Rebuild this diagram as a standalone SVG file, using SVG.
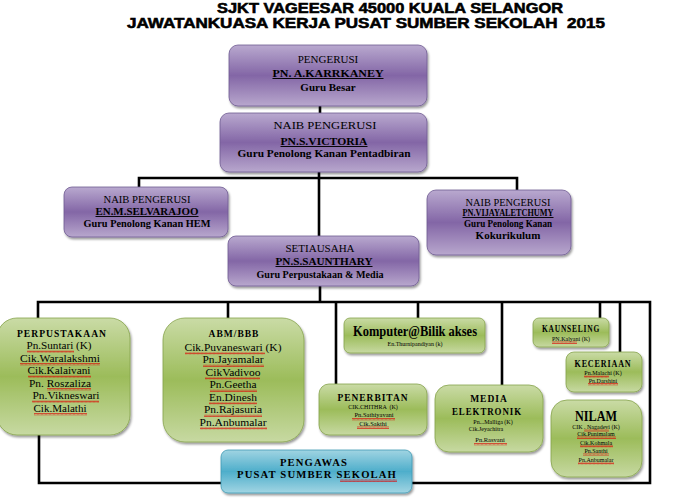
<svg xmlns="http://www.w3.org/2000/svg" width="688" height="503" viewBox="0 0 688 503">
<style>
.t{font-family:"Liberation Sans",Arial,sans-serif;font-weight:bold;font-size:14px;fill:#000;stroke:#000;stroke-width:0.55}
.s{font-family:"Liberation Serif","Times New Roman",serif;fill:#000;text-anchor:middle}
.h{font-size:11px}
.n{font-size:9.5px;font-weight:900;text-decoration:underline}
.g{font-size:11px;font-weight:bold}
.c{font-size:9.5px;font-weight:bold;letter-spacing:1px}
.m{font-size:10.5px}
.x{font-size:6px}
.y{font-size:6.5px}
.pb{fill:url(#pg);stroke:#6f5a92;stroke-width:0.8;filter:url(#sh)}
.gb{fill:url(#gg);stroke:#86a34c;stroke-width:0.8;filter:url(#sh)}
.bb{fill:url(#bg);stroke:#3f9ab4;stroke-width:0.8;filter:url(#sh)}
.ln{fill:none;stroke:#000;stroke-width:2.6}
.sq{fill:url(#sqp)}
</style>
<defs>
<linearGradient id="pg" x1="0" y1="0" x2="0" y2="1">
<stop offset="0" stop-color="#b9a9cf"/><stop offset="0.5" stop-color="#8366a6"/><stop offset="1" stop-color="#b8a7cd"/>
</linearGradient>
<linearGradient id="gg" x1="0" y1="0" x2="0" y2="1">
<stop offset="0" stop-color="#cadba6"/><stop offset="0.5" stop-color="#9cbc5a"/><stop offset="1" stop-color="#c7d9a2"/>
</linearGradient>
<linearGradient id="bg" x1="0" y1="0" x2="0" y2="1">
<stop offset="0" stop-color="#a0d4e2"/><stop offset="0.5" stop-color="#4eaecb"/><stop offset="1" stop-color="#a2d5e3"/>
</linearGradient>
<filter id="sh" x="-10%" y="-10%" width="125%" height="130%">
<feDropShadow dx="1.2" dy="2" stdDeviation="1" flood-color="#000" flood-opacity="0.4"/>
</filter>
<pattern id="sqp" width="4" height="2.5" patternUnits="userSpaceOnUse">
<path d="M0,2 L1,0.5 L2,2 L3,0.5 L4,2" fill="none" stroke="#e00000" stroke-width="0.7"/>
</pattern>
</defs>

<g id="title">
<text class="t" x="217" y="13" textLength="346" lengthAdjust="spacingAndGlyphs">SJKT VAGEESAR 45000 KUALA SELANGOR</text>
<text class="t" x="127" y="28" textLength="478" lengthAdjust="spacingAndGlyphs" xml:space="preserve">JAWATANKUASA KERJA PUSAT SUMBER SEKOLAH  2015</text>
</g>

<g id="connectors">
<path class="ln" d="M320,106 V113"/>
<path class="ln" d="M319,172 V236"/>
<path class="ln" d="M139,187 V178 H517 V190"/>
<path class="ln" d="M320,286 V302"/>
<path class="ln" d="M38,318 V302 H650 V483 H412"/>
<path class="ln" d="M221,483 H39 V435"/>
<path class="ln" d="M228,302 V318"/>
<path class="ln" d="M336,302 V384"/>
<path class="ln" d="M418,302 V318"/>
<path class="ln" d="M502,302 V385"/>
<path class="ln" d="M600,302 V318"/>
<path class="ln" d="M620,302 V352"/>
</g>

<g id="pengerusi">
<rect class="pb" x="229" y="45" width="198" height="61" rx="9"/>
<text class="s h" x="328" y="63">PENGERUSI</text>
<text class="s n" x="328" y="77" textLength="111" lengthAdjust="spacingAndGlyphs">PN. A.KARRKANEY</text>
<text class="s g" x="328" y="91">Guru Besar</text>
</g>

<g id="naib-pentadbiran">
<rect class="pb" x="220" y="113" width="207" height="59" rx="9"/>
<text class="s h" x="325" y="129" textLength="103" lengthAdjust="spacingAndGlyphs">NAIB PENGERUSI</text>
<text class="s n" x="324" y="145" textLength="87" lengthAdjust="spacingAndGlyphs">PN.S.VICTORIA</text>
<text class="s g" x="324" y="157" textLength="173" lengthAdjust="spacingAndGlyphs">Guru Penolong Kanan Pentadbiran</text>
</g>

<g id="naib-hem">
<rect class="pb" x="64" y="187" width="164" height="50" rx="8"/>
<text class="s h" x="147" y="203" textLength="87" lengthAdjust="spacingAndGlyphs">NAIB PENGERUSI</text>
<text class="s n" x="147" y="215" textLength="103" lengthAdjust="spacingAndGlyphs">EN.M.SELVARAJOO</text>
<text class="s g" x="147" y="227" textLength="127" lengthAdjust="spacingAndGlyphs">Guru Penolong Kanan HEM</text>
</g>

<g id="naib-kokurikulum">
<rect class="pb" x="427" y="190" width="144" height="65" rx="9"/>
<text class="s h" x="508" y="205.5" textLength="85" lengthAdjust="spacingAndGlyphs">NAIB PENGERUSI</text>
<text class="s n" x="508" y="216" textLength="91" lengthAdjust="spacingAndGlyphs">PN.VIJAYALETCHUMY</text>
<text class="s g" x="508" y="227" font-size="10.5" textLength="88" lengthAdjust="spacingAndGlyphs">Guru Penolong Kanan</text>
<text class="s g" x="508" y="238.5" font-size="10.5">Kokurikulum</text>
</g>

<g id="setiausaha">
<rect class="pb" x="228" y="236" width="191" height="50" rx="8"/>
<text class="s h" x="320" y="252">SETIAUSAHA</text>
<text class="s n" x="324" y="265" textLength="97" lengthAdjust="spacingAndGlyphs">PN.S.SAUNTHARY</text>
<text class="s g" x="320" y="278" textLength="127" lengthAdjust="spacingAndGlyphs">Guru Perpustakaan &amp; Media</text>
</g>

<g id="perpustakaan">
<rect class="gb" x="-3" y="318" width="133" height="117" rx="20"/>
<text class="s c" x="62" y="336.5" textLength="90" lengthAdjust="spacingAndGlyphs">PERPUSTAKAAN</text>
<text class="s m" x="59" y="349" textLength="65" lengthAdjust="spacingAndGlyphs">Pn.Suntari (K)</text>
<text class="s m" x="60" y="361.5" textLength="80" lengthAdjust="spacingAndGlyphs">Cik.Waralakshmi</text>
<text class="s m" x="59" y="374" textLength="63" lengthAdjust="spacingAndGlyphs">Cik.Kalaivani</text>
<text class="s m" x="60" y="386.5" textLength="62" lengthAdjust="spacingAndGlyphs">Pn. Roszaliza</text>
<text class="s m" x="66" y="399" textLength="67" lengthAdjust="spacingAndGlyphs">Pn.Vikneswari</text>
<text class="s m" x="60" y="411.5" textLength="53" lengthAdjust="spacingAndGlyphs">Cik.Malathi</text>
<rect class="sq" x="27" y="350.5" width="47" height="2.5"/>
<rect class="sq" x="20" y="363" width="80" height="2.5"/>
<rect class="sq" x="28" y="375.5" width="63" height="2.5"/>
<rect class="sq" x="47" y="388" width="44" height="2.5"/>
<rect class="sq" x="32" y="400.5" width="67" height="2.5"/>
<rect class="sq" x="34" y="413" width="53" height="2.5"/>
</g>

<g id="abm-bbb">
<rect class="gb" x="163" y="318" width="141" height="124" rx="22"/>
<text class="s c" x="234" y="337">ABM/BBB</text>
<text class="s m" x="233" y="350.5" textLength="97" lengthAdjust="spacingAndGlyphs">Cik.Puvaneswari (K)</text>
<text class="s m" x="233" y="363" textLength="61" lengthAdjust="spacingAndGlyphs">Pn.Jayamalar</text>
<text class="s m" x="233" y="375.5" textLength="55" lengthAdjust="spacingAndGlyphs">CikVadivoo</text>
<text class="s m" x="233" y="388" textLength="47" lengthAdjust="spacingAndGlyphs">Pn.Geetha</text>
<text class="s m" x="233" y="400.5" textLength="48" lengthAdjust="spacingAndGlyphs">En.Dinesh</text>
<text class="s m" x="233" y="413" textLength="58" lengthAdjust="spacingAndGlyphs">Pn.Rajasuria</text>
<text class="s m" x="233" y="425.5" textLength="67" lengthAdjust="spacingAndGlyphs">Pn.Anbumalar</text>
<rect class="sq" x="185" y="352" width="80" height="2.5"/>
<rect class="sq" x="203" y="364.5" width="61" height="2.5"/>
<rect class="sq" x="205" y="377" width="55" height="2.5"/>
<rect class="sq" x="210" y="389.5" width="47" height="2.5"/>
<rect class="sq" x="209" y="402" width="48" height="2.5"/>
<rect class="sq" x="204" y="414.5" width="58" height="2.5"/>
<rect class="sq" x="200" y="427" width="67" height="2.5"/>
</g>

<g id="komputer">
<rect class="gb" x="344" y="318" width="141" height="35" rx="6"/>
<text class="s" x="415" y="336" font-size="14" font-weight="bold" textLength="124" lengthAdjust="spacingAndGlyphs">Komputer@Bilik akses</text>
<text class="s x" x="415" y="346">En.Thurnipandiyan (k)</text>
</g>

<g id="penerbitan">
<rect class="gb" x="319" y="384" width="108" height="51" rx="10"/>
<text class="s c" x="373" y="400.5" textLength="71" lengthAdjust="spacingAndGlyphs">PENERBITAN</text>
<text class="s x" x="373" y="409" xml:space="preserve">CIK.CHITHRA  (K)</text>
<text class="s y" x="374" y="417">Pn.Sathiyavani</text>
<text class="s y" x="373" y="425.5">Cik.Sakthi</text>
<rect class="sq" x="352" y="418" width="43" height="2.5"/>
<rect class="sq" x="357" y="426.5" width="32" height="2.5"/>
</g>

<g id="media-elektronik">
<rect class="gb" x="435" y="385" width="108" height="67" rx="14"/>
<text class="s c" x="489" y="402">MEDIA</text>
<text class="s c" x="487" y="415" textLength="70" lengthAdjust="spacingAndGlyphs">ELEKTRONIK</text>
<text class="s x" x="493" y="424">Pn...Malliga (K)</text>
<text class="s x" x="486" y="431">Cik.Jeyachitra</text>
<text class="s y" x="490" y="442">Pn.Rasvani</text>
<rect class="sq" x="474" y="443" width="33" height="2.5"/>
</g>

<g id="kaunseling">
<rect class="gb" x="533" y="318" width="76" height="29" rx="6"/>
<text class="s c" x="571" y="332" font-size="8.5" textLength="58" lengthAdjust="spacingAndGlyphs">KAUNSELING</text>
<text class="s x" x="571" y="341">PN.Kalyani (K)</text>
<rect class="sq" x="552" y="341.5" width="25" height="2.5"/>
</g>

<g id="keceriaan">
<rect class="gb" x="566" y="352" width="76" height="40" rx="8"/>
<text class="s c" x="603" y="366.5" font-size="8.5" textLength="57" lengthAdjust="spacingAndGlyphs">KECERIAAN</text>
<text class="s x" x="603" y="375">Pn.Malachi (K)</text>
<text class="s x" x="603" y="382.5">Pn.Darshini</text>
<rect class="sq" x="584" y="375.5" width="25" height="2.5"/>
<rect class="sq" x="588" y="383" width="30" height="2.5"/>
</g>

<g id="nilam">
<rect class="gb" x="551" y="400" width="91" height="77" rx="16"/>
<text class="s" x="596" y="420.5" font-size="15" font-weight="bold" textLength="42" lengthAdjust="spacingAndGlyphs">NILAM</text>
<text class="s x" x="596" y="428.5">CIK . Nagadevi (K)</text>
<text class="s x" x="596" y="436">Cik.Punimalam</text>
<text class="s x" x="596" y="444.5">Cik.Kohmala</text>
<text class="s x" x="596" y="453">Pn.Santhi</text>
<text class="s x" x="596" y="461.5">Pn.Anbumalar</text>
<rect class="sq" x="584" y="429" width="25" height="2.5"/>
<rect class="sq" x="577" y="436.5" width="39" height="2.5"/>
<rect class="sq" x="580" y="445" width="33" height="2.5"/>
<rect class="sq" x="583" y="453.5" width="26" height="2.5"/>
<rect class="sq" x="578" y="462" width="36" height="2.5"/>
</g>

<g id="pengawas">
<rect class="bb" x="221" y="450" width="191" height="43" rx="7"/>
<text class="s c" x="314" y="466" font-size="11" textLength="68" lengthAdjust="spacingAndGlyphs">PENGAWAS</text>
<text class="s c" x="317" y="478" font-size="11" textLength="160" lengthAdjust="spacingAndGlyphs">PUSAT SUMBER SEKOLAH</text>
<rect class="sq" x="340" y="479" width="57" height="3"/>
</g>
</svg>
